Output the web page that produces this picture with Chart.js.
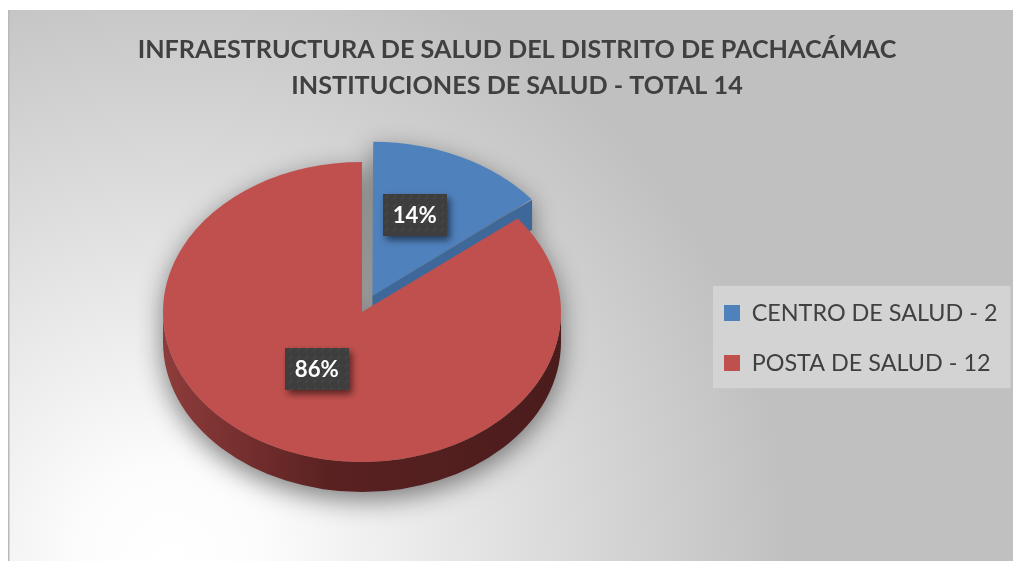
<!DOCTYPE html>
<html>
<head>
<meta charset="utf-8">
<script src="https://cdn.jsdelivr.net/npm/chart.js@4.4.0/dist/chart.umd.min.js"></script>
<style>
html,body{margin:0;padding:0;background:#fff;overflow:hidden}
#wrap{position:absolute;left:0;top:0;width:1013px;height:561px}
canvas{display:block}
</style>
</head>
<body>
<div id="wrap"><canvas id="c" width="1013" height="561"></canvas></div>
<script>
// ---------- data ----------
const titleMain = 'INFRAESTRUCTURA DE SALUD DEL DISTRITO DE PACHACÁMAC';
const titleSubPrefix = 'INSTITUCIONES DE SALUD - TOTAL ';
const categories = ['CENTRO DE SALUD', 'POSTA DE SALUD'];
const values = [2, 12];
const explode = [96, 0];

// ---------- styles ----------
const sliceColors = ['#4f81bd', '#c0504d'];
const faceColors = ['#3e6899', '#7d3533'];
const sideShades = [['#3f6a9c', '#2d4e75', '#27446a'], ['#8d3c3b', '#5a2121', '#4b1c1c']];
const TEXT_COLOR = '#404040';
const FONT = 'Lato, "Open Sans", sans-serif';

// ---------- layout targets ----------
const W = 1013, H = 561;
const PIE_CX = 362, PIE_CY = 312, PIE_R = 199, SQUISH = 0.754, DEPTH = 30;
const LEG_BOX_X = 724, LEG_ROW1_Y = 313, LEG_STEP = 50, LEG_BOX = 16;
const TITLE_Y1 = 49.5, TITLE_LH = 36;

const total = values.reduce((a, b) => a + b, 0);
const legendLabels = categories.map((c, i) => c + ' - ' + values[i]);
const titleLines = [titleMain, titleSubPrefix + total];

const mctx = document.createElement('canvas').getContext('2d');
function measure(text, weight, size) {
  mctx.font = weight + ' ' + size + 'px ' + FONT;
  return mctx.measureText(text).width;
}
const titleSize = 100 * 759 / measure(titleLines[0], 'bold', 100);
const legSize = 100 * 246 / measure(legendLabels[0], 'normal', 100);
const lblSize = 100 * 44 / measure('14%', 'bold', 100);
const legPad = LEG_STEP - legSize;
const legTextW = Math.max(...legendLabels.map(t => measure(t, 'normal', legSize)));
const legWidth = legPad + LEG_BOX + legSize / 2 + legTextW + 10;
const legLeft = LEG_BOX_X - legPad;
const padRight = Math.max(0, W - legLeft - legWidth);
const padLeft = 2 * PIE_CX - legLeft;
const areaBottom = LEG_ROW1_Y - legSize / 2 + 2 * LEG_STEP;
const areaTop = 2 * PIE_CY - areaBottom;
const titlePadTop = TITLE_Y1 - TITLE_LH / 2;
const titlePadBottom = areaTop - titlePadTop - 2 * TITLE_LH;

// label box pattern
const tile = document.createElement('canvas'); tile.width = 8; tile.height = 8;
(function () {
  const t = tile.getContext('2d');
  t.fillStyle = '#3e3e3e'; t.fillRect(0, 0, 8, 8);
  t.strokeStyle = 'rgba(255,255,255,0.10)'; t.lineWidth = 1;
  t.beginPath(); t.moveTo(1, 7); t.lineTo(4, 4); t.stroke();
})();

function geom(arc) {
  const o = arc.options;
  const off = (o.offset || 0) / 4;
  const mid = (arc.startAngle + arc.endAngle) / 2;
  const circ = arc.endAngle - arc.startAngle;
  const fix = 1 - Math.sin(Math.min(Math.PI, circ || 0));
  return {
    cx: arc.x + Math.cos(mid) * off,
    cy: arc.y + Math.sin(mid) * off,
    r: arc.outerRadius + off * fix,
    s: arc.startAngle, e: arc.endAngle, mid
  };
}
function ctr(g, CY) { return [g.cx, CY + SQUISH * (g.cy - CY)]; }

const pie3d = {
  id: 'pie3d',
  beforeDraw(chart) {
    const ctx = chart.ctx;
    ctx.save();
    ctx.fillStyle = '#ffffff'; ctx.fillRect(0, 0, W, H);
    const bg = ctx.createRadialGradient(170, 560, 0, 170, 560, 620);
    bg.addColorStop(0, '#ffffff'); bg.addColorStop(0.15, '#fcfcfc'); bg.addColorStop(1, '#c0c0c0');
    ctx.fillStyle = bg; ctx.fillRect(8, 10, W - 8, H - 10);
    ctx.fillStyle = '#b9b9b9'; ctx.fillRect(8, 10, 1.5, H - 10);
    // legend panel
    const hb = chart.legend.legendHitBoxes;
    if (hb && hb.length) {
      const x0 = hb[0].left - 11, y0 = hb[0].top - 15.5;
      const x1 = Math.max(...hb.map(h => h.left + h.width)) + 13;
      const y1 = hb[hb.length - 1].top + hb[hb.length - 1].height + 13.5;
      ctx.fillStyle = '#d3d3d3';
      ctx.fillRect(x0, y0, x1 - x0, y1 - y0);
    }
    ctx.restore();
  },
  beforeDatasetsDraw(chart) {
    const ctx = chart.ctx;
    const meta = chart.getDatasetMeta(0);
    const CY = meta.data[0].y;
    const geoms = meta.data.map(geom);
    // soft drop shadow
    const off = document.createElement('canvas'); off.width = W; off.height = H;
    const o = off.getContext('2d'); o.fillStyle = '#000';
    geoms.forEach(g => {
      const c = ctr(g, CY);
      for (let dy = 0; dy <= DEPTH; dy += 2) {
        o.beginPath(); o.moveTo(c[0], c[1] + dy);
        o.ellipse(c[0], c[1] + dy, g.r, SQUISH * g.r, 0, g.s, g.e);
        o.closePath(); o.fill();
      }
    });
    ctx.save();
    ctx.filter = 'blur(13px)'; ctx.globalAlpha = 0.48;
    ctx.drawImage(off, 0, 8);
    ctx.restore();
    // sides
    geoms.forEach((g, i) => {
      const c = ctr(g, CY);
      for (let k = -1; k <= 2; k++) {
        const a0 = Math.max(g.s, 2 * Math.PI * k), a1 = Math.min(g.e, 2 * Math.PI * k + Math.PI);
        if (a1 - a0 > 1e-3) {
          ctx.beginPath();
          ctx.ellipse(c[0], c[1], g.r, SQUISH * g.r, 0, a0, a1);
          ctx.ellipse(c[0], c[1] + DEPTH, g.r, SQUISH * g.r, 0, a1, a0, true);
          ctx.closePath();
          const gr = ctx.createLinearGradient(c[0] - g.r, 0, c[0] + g.r, 0);
          gr.addColorStop(0, sideShades[i][0]);
          gr.addColorStop(0.42, sideShades[i][1]);
          gr.addColorStop(1, sideShades[i][2]);
          ctx.fillStyle = gr; ctx.fill();
        }
      }
      [[g.e, Math.cos(g.e)], [g.s, -Math.cos(g.s)]].forEach(([a, ny]) => {
        if (ny > 0.05) {
          const p = [c[0] + g.r * Math.cos(a), c[1] + SQUISH * g.r * Math.sin(a)];
          ctx.beginPath();
          ctx.moveTo(c[0], c[1]); ctx.lineTo(p[0], p[1]);
          ctx.lineTo(p[0], p[1] + DEPTH); ctx.lineTo(c[0], c[1] + DEPTH);
          ctx.closePath();
          ctx.fillStyle = faceColors[i]; ctx.fill();
        }
      });
    });
    // tilt the top faces drawn by Chart.js
    ctx.save();
    ctx.translate(0, CY); ctx.scale(1, SQUISH); ctx.translate(0, -CY);
  },
  afterDatasetsDraw(chart) {
    const ctx = chart.ctx;
    ctx.restore();
    const meta = chart.getDatasetMeta(0);
    const CY = meta.data[0].y;
    const pat = ctx.createPattern(tile, 'repeat');
    ctx.font = 'bold ' + lblSize + 'px ' + FONT;
    meta.data.forEach((arc, i) => {
      const g = geom(arc);
      const c = ctr(g, CY);
      const x = c[0] + 0.5 * g.r * Math.cos(g.mid);
      const y = c[1] + SQUISH * 0.5 * g.r * Math.sin(g.mid) - 11;
      const txt = Math.round(values[i] / total * 100) + '%';
      const bw = Math.round(ctx.measureText(txt).width + 20), bh = 42;
      ctx.save();
      ctx.shadowColor = 'rgba(0,0,0,0.55)'; ctx.shadowBlur = 7;
      ctx.shadowOffsetX = 3; ctx.shadowOffsetY = 4;
      ctx.fillStyle = pat;
      ctx.fillRect(Math.round(x - bw / 2) - 2, Math.round(y - bh / 2), bw, bh);
      ctx.restore();
      ctx.fillStyle = '#ffffff';
      ctx.textAlign = 'center'; ctx.textBaseline = 'middle';
      ctx.fillText(txt, x - 2, y + 1);
    });
  }
};

Chart.defaults.font.family = FONT;
new Chart(document.getElementById('c'), {
  type: 'pie',
  data: {
    labels: legendLabels,
    datasets: [{
      data: values,
      backgroundColor: sliceColors,
      borderWidth: 0,
      offset: explode,
      hoverOffset: 0,
      radius: PIE_R,
      clip: false
    }]
  },
  options: {
    responsive: false,
    animation: false,
    devicePixelRatio: 1,
    events: [],
    layout: { padding: { top: 0, left: padLeft, right: padRight, bottom: H - areaBottom } },
    plugins: {
      title: {
        display: true,
        text: titleLines,
        color: TEXT_COLOR,
        font: { family: FONT, size: titleSize, weight: 'bold', lineHeight: TITLE_LH + 'px' },
        padding: { top: titlePadTop, bottom: titlePadBottom }
      },
      legend: {
        display: true,
        position: 'right',
        align: 'end',
        fullSize: false,
        labels: {
          color: TEXT_COLOR,
          font: { family: FONT, size: legSize },
          boxWidth: LEG_BOX,
          boxHeight: LEG_BOX,
          padding: legPad
        }
      },
      tooltip: { enabled: false }
    }
  },
  plugins: [pie3d]
});
</script>
</body>
</html>
